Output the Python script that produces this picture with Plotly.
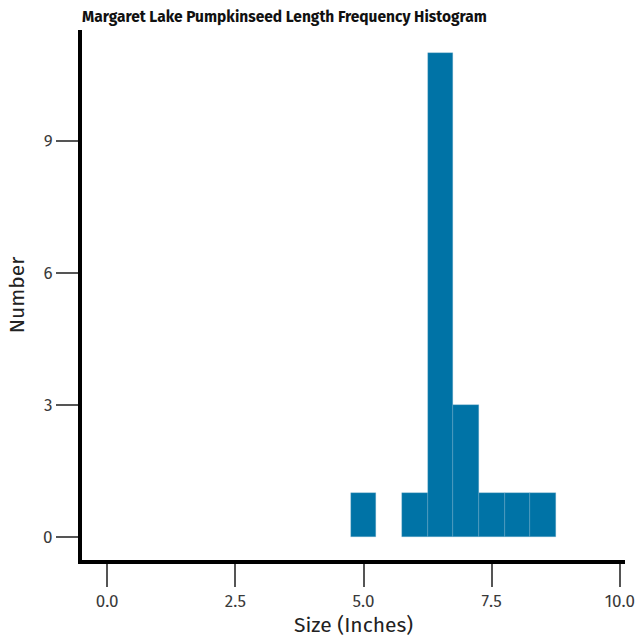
import plotly.graph_objects as go

# bin centres (inches) and fish counts, bins 0.5 in wide
size_bins = [5.0, 6.0, 6.5, 7.0, 7.5, 8.0, 8.5]
counts = [1, 1, 11, 3, 1, 1, 1]
bin_width = 0.5

fig = go.Figure(
    go.Bar(
        x=size_bins,
        y=counts,
        width=bin_width,
        marker=dict(color="#0073A6", line=dict(color="rgba(120,175,205,0.6)", width=0.5)),
    )
)

fig.update_layout(
    width=637,
    height=639,
    paper_bgcolor="white",
    plot_bgcolor="white",
    margin=dict(l=82, r=12, t=30, b=79, autoexpand=False),
    font=dict(family="Fira Sans, Open Sans, sans-serif", color="#222"),
    title=dict(
        text="<b>Margaret Lake Pumpkinseed Length Frequency Histogram</b>",
        x=82 / 637, xref="container", xanchor="left",
        y=0.983, yref="container", yanchor="top",
        font=dict(size=15.5, color="#111"),
    ),
    showlegend=False,
    bargap=0,
)

fig.update_xaxes(
    range=[-0.49, 10.1],
    tickvals=[0, 2.5, 5, 7.5, 10],
    ticktext=["0.0", "2.5", "5.0", "7.5", "10.0"],
    ticks="outside", ticklen=23, tickwidth=1.5, tickcolor="#555",
    tickfont=dict(size=17, color="#3a3a3a"),
    showline=True, linewidth=4, linecolor="black",
    showgrid=False, zeroline=False, automargin=False,
    title=dict(text="Size (Inches)", font=dict(size=21), standoff=6),
)
fig.update_yaxes(
    range=[-0.52, 11.52],
    tickvals=[0, 3, 6, 9],
    ticks="outside", ticklen=22, tickwidth=1.5, tickcolor="#555",
    tickfont=dict(size=17, color="#3a3a3a"),
    showline=True, linewidth=4, linecolor="black",
    showgrid=False, zeroline=False, automargin=False,
    title=dict(text="Number", font=dict(size=21), standoff=14),
)

# drop the default body margin so the figure sits at the page corner
fig.write_html(
    "out.html",
    config={"displayModeBar": False},
    post_script="document.body.style.margin='0';",
)
